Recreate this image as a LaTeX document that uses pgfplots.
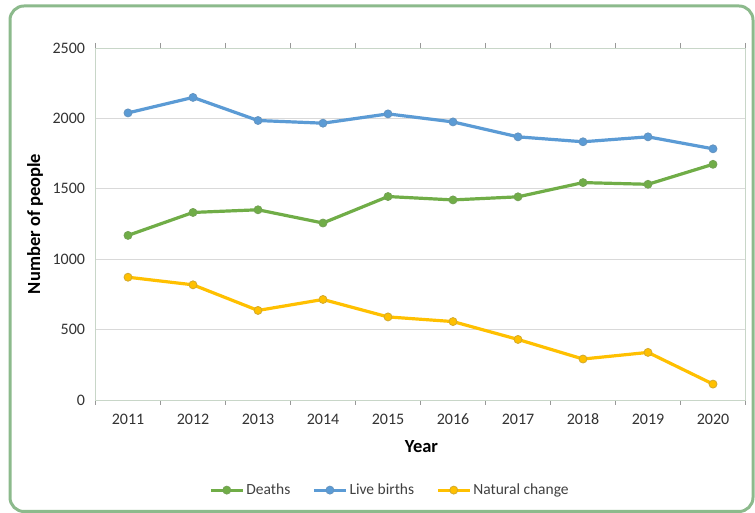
\documentclass[border=0pt]{standalone}
\usepackage{pgfplots}
\pgfplotsset{compat=1.18}
\usepackage{fontspec}
\setmainfont{Carlito}
\definecolor{cgreen}{RGB}{112,173,71}
\definecolor{cblue}{RGB}{91,155,213}
\definecolor{cgold}{RGB}{255,192,0}
\definecolor{framec}{RGB}{140,186,140}
\definecolor{plotborder}{RGB}{200,214,200}
\definecolor{gridc}{RGB}{217,217,217}
\definecolor{txt}{RGB}{50,50,50}
\definecolor{legtxt}{RGB}{64,64,64}
\begin{document}
\begin{tikzpicture}
\useasboundingbox (0pt,0pt) rectangle (755pt,513pt);
\fill[white] (10pt,1.5pt) rectangle (753pt,507pt);
\draw[framec, line width=3pt, rounded corners=14pt] (10pt,1.5pt) rectangle (753pt,507pt);
\begin{axis}[
  at={(95.5pt,113pt)}, anchor=south west,
  scale only axis, width=650pt, height=352pt,
  xmin=-0.5, xmax=9.5, ymin=0, ymax=2500,
  xtick={0,...,9},
  xticklabels={2011,2012,2013,2014,2015,2016,2017,2018,2019,2020},
  minor xtick={-0.5,0.5,...,9.5},
  major x tick style={draw=none},
  minor x tick style={gridc!70!black, line width=0.6pt},
  minor tick length=5pt,
  xtick align=outside,
  ytick={0,500,1000,1500,2000,2500},
  ymajorgrids, major grid style={gridc, line width=0.8pt},
  y tick style={draw=none},
  axis line style={plotborder, line width=0.8pt},
  tick label style={font=\fontsize{16}{18}\selectfont, text=txt},
  /pgf/number format/assume math mode=true,
  /pgf/number format/1000 sep={},
  xticklabel style={yshift=-6pt},
  yticklabel style={xshift=-7pt},
  xlabel={\textbf{Year}},
  ylabel={\textbf{Number of people}},
  label style={font=\fontsize{18.5}{21}\selectfont, text=black},
  xlabel style={at={(axis description cs:0.5015,-0.1335)}, anchor=center},
  ylabel style={at={(axis description cs:-0.093,0.5)}, anchor=center},
  legend columns=3,
  legend style={draw=none, fill=none, at={(0.453,-0.256)}, anchor=center,
    font=\fontsize{15.5}{18}\selectfont, text=legtxt,
    /tikz/every even column/.append style={column sep=20pt}},
  legend image code/.code={\draw[mark repeat=2,mark phase=2,#1] plot coordinates {(0pt,0pt) (16pt,0pt) (32pt,0pt)};},
  every axis plot/.append style={line width=3.2pt, mark=*, mark size=4pt},
]
\addplot[color=cgreen, mark options={fill=cgreen, draw=cgreen!75!gray, line width=0.8pt}] coordinates {
(0,1169) (1,1332) (2,1351) (3,1257) (4,1445) (5,1421) (6,1443) (7,1544) (8,1532) (9,1674)};
\addlegendentry{Deaths}
\addplot[color=cblue, mark options={fill=cblue, draw=cblue!75!gray, line width=0.8pt}] coordinates {
(0,2039) (1,2149) (2,1985) (3,1966) (4,2032) (5,1975) (6,1869) (7,1834) (8,1869) (9,1784)};
\addlegendentry{Live births}
\addplot[color=cgold, mark options={fill=cgold, draw=cgold!65!gray, line width=0.8pt}] coordinates {
(0,872) (1,818) (2,636) (3,714) (4,590) (5,557) (6,430) (7,291) (8,338) (9,113)};
\addlegendentry{Natural change}
\end{axis}
\end{tikzpicture}
\end{document}
